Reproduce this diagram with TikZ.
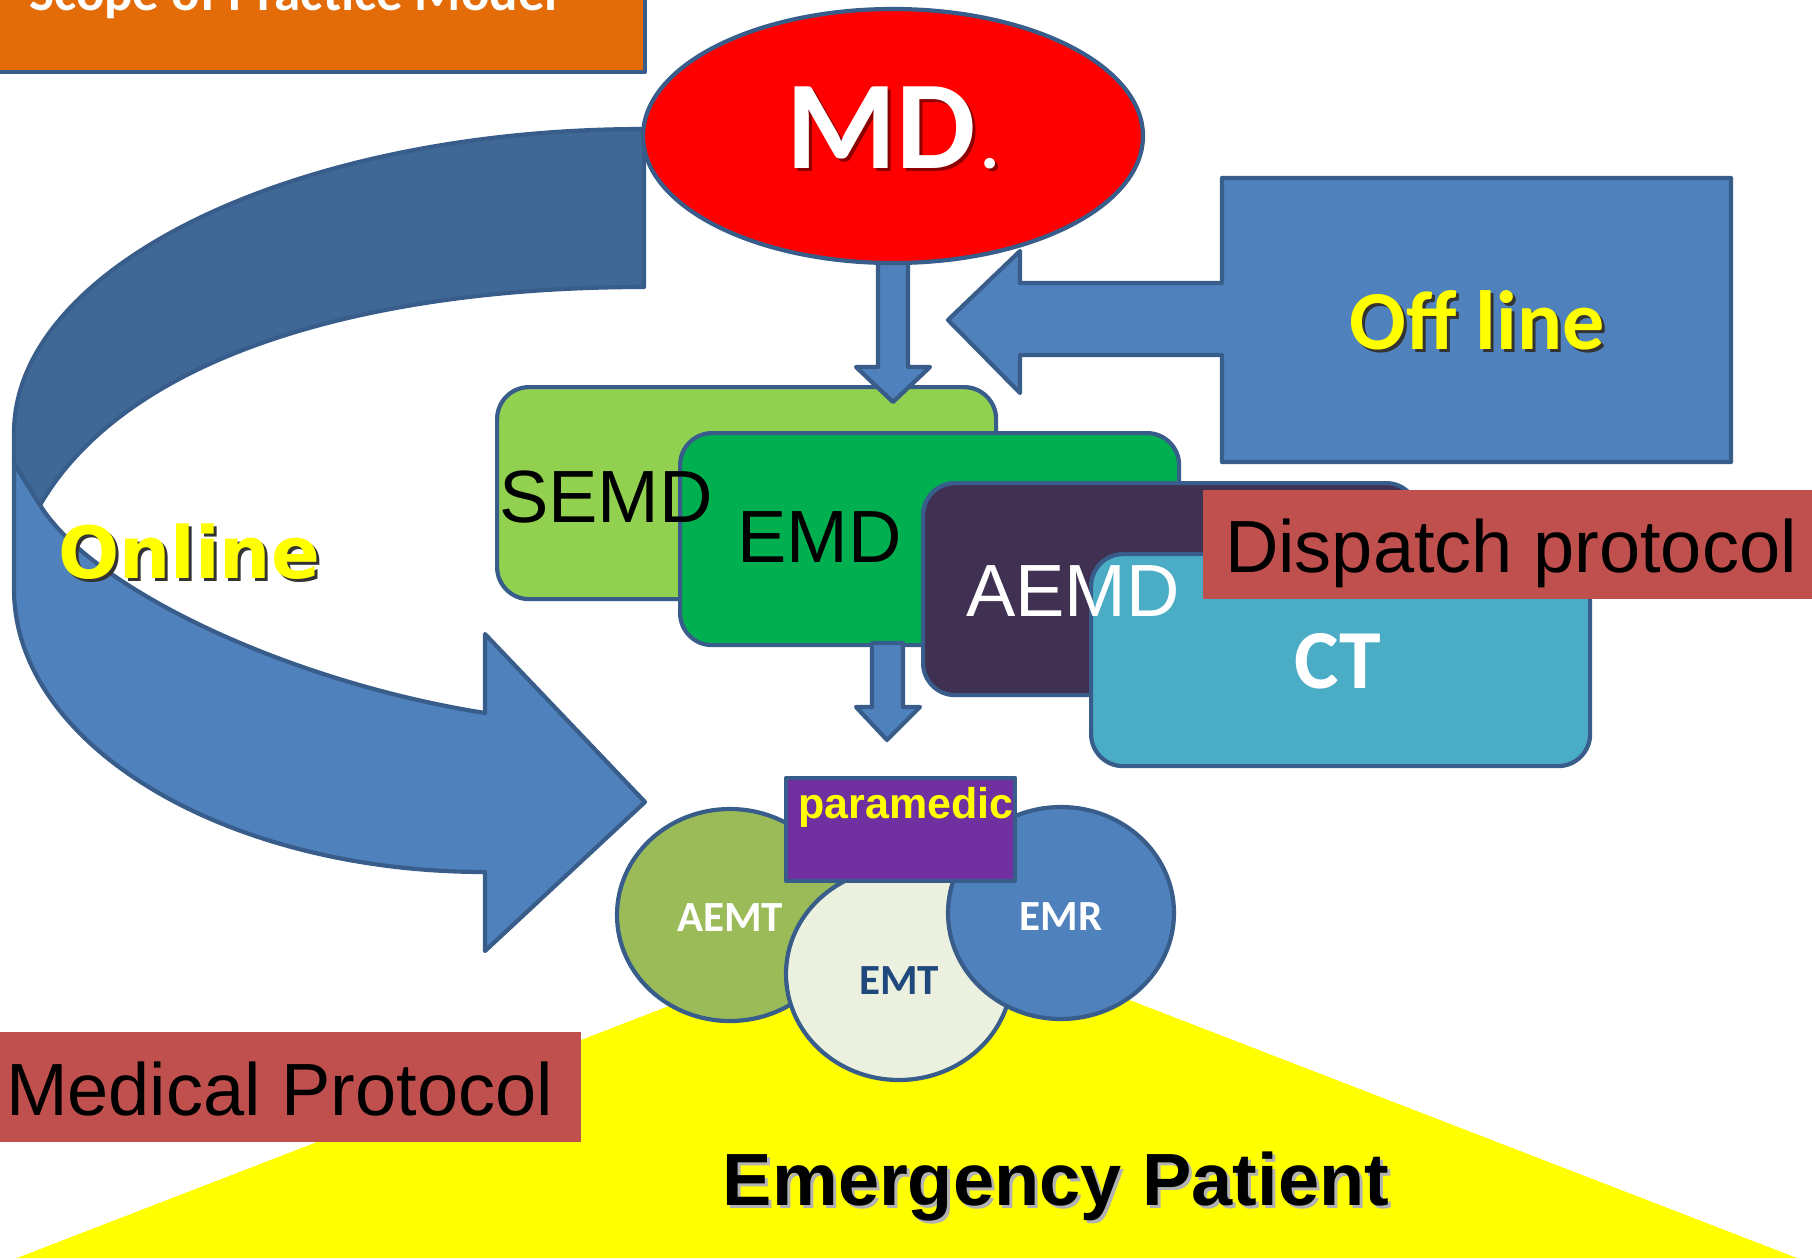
\documentclass[tikz,border=0pt]{standalone}
\usepackage{fontspec}
\setmainfont{Liberation Sans}
\newfontfamily\carlito{Carlito}
\newfontfamily\dvs{DejaVu Sans}
\usetikzlibrary{shapes.geometric}
\definecolor{bordc}{HTML}{385D8A}
\definecolor{orangeF}{HTML}{E36C09}
\definecolor{blueF}{HTML}{4F81BD}
\definecolor{blueD}{HTML}{406897}
\definecolor{semdF}{HTML}{92D050}
\definecolor{emdF}{HTML}{00B050}
\definecolor{aemdF}{HTML}{403152}
\definecolor{ctF}{HTML}{4BACC6}
\definecolor{protF}{HTML}{C0504D}
\definecolor{aemtF}{HTML}{9BBB59}
\definecolor{emtF}{HTML}{EBF1DE}
\definecolor{emtT}{HTML}{1F497D}
\definecolor{paraF}{HTML}{7030A0}
\definecolor{yel}{HTML}{FFFF00}
\definecolor{mdshadow}{HTML}{8B0000}
\begin{document}
\begin{tikzpicture}[x=1pt,y=-1pt,
  outl/.style={draw=bordc, line width=4.2pt, line join=round},
  rbox/.style={outl, rounded corners=32pt, minimum width=499pt, minimum height=212pt, anchor=north west, inner sep=0pt},
  circ/.style={outl, ellipse, minimum width=226pt, minimum height=212pt, inner sep=0pt},
  txt/.style={inner sep=0pt, outer sep=0pt},
  arialbig/.style={txt, font=\fontsize{74}{80}\selectfont},
  calb/.style={txt, font=\carlito\bfseries\fontsize{43}{50}\selectfont},
  mdfont/.style={txt, anchor=base west, font=\carlito\bfseries\fontsize{126}{130}\selectfont},
]
\useasboundingbox (0,0) rectangle (1812,1259);
% patient triangle
\fill[yel] (17,1258) -- (907,914) -- (1797,1258) -- cycle;
% online curved arrow
\draw[outl, fill=blueF] (14,463) -- (14,589) .. controls (14,745) and (225,872) .. (485,872) -- (485,951) -- (645,802) -- (485,634) -- (485,713) .. controls (289,682) and (92,589) .. (40,505) -- (14,463) -- cycle;
\draw[outl, fill=blueD] (644,129) .. controls (296,129) and (14,266) .. (14,433) -- (14,463) -- (40,505) .. controls (130,350) and (380,287) .. (644,287) -- cycle;
\node[txt, anchor=base west, text=black!80, font=\dvs\bfseries\fontsize{72}{80}\selectfont] (onlinesh) at (61,581) {Online};
\node[txt, anchor=base west, text=yel, font=\dvs\bfseries\fontsize{72}{80}\selectfont] (online) at (58,578) {Online};
% title box
\draw[outl, fill=orangeF] (-10,-10) rectangle (645,72);
\node[txt, anchor=base west, text=white, font=\carlito\bfseries\fontsize{53}{60}\selectfont] (scope) at (29,10) {Scope of Practice Model};
% offline callout
\draw[outl, fill=blueF] (1222,178) -- (1731,178) -- (1731,462) -- (1222,462) -- (1222,355) -- (1020,355) -- (1020,393) -- (948,320) -- (1020,251) -- (1020,283) -- (1222,283) -- cycle;
\node[txt, anchor=base, text=black!80, font=\carlito\bfseries\fontsize{84}{90}\selectfont] (offsh) at (1480,352) {Off line};
\node[txt, anchor=base, text=yel, font=\carlito\bfseries\fontsize{84}{90}\selectfont] (off) at (1477,349) {Off line};
% dispatcher boxes
\node[rbox, fill=semdF] (semd) at (495,385) {};
\node[rbox, fill=emdF] (emd) at (678,431) {};
\node[rbox, fill=aemdF, minimum width=495pt] (aemd) at (921,481) {};
\node[rbox, fill=ctF] (ct) at (1089,552) {};
\node[arialbig, anchor=base west] (semdt) at (499,522) {SEMD};
\node[arialbig, anchor=base west] (emdt) at (737,562) {EMD};
\node[arialbig, anchor=base west, text=white] (aemdt) at (966,616) {AEMD};
\node[txt, anchor=base, text=white, font=\carlito\bfseries\fontsize{84}{90}\selectfont] (ctt) at (1338,688) {CT};
\fill[protF] (1203,490) rectangle (1830,599);
\node[arialbig, anchor=base west] (disp) at (1225,572) {Dispatch protocol};
% down arrows
\draw[outl, fill=blueF] (878,250) -- (878,367) -- (856,367) -- (893,402) -- (930,367) -- (908,367) -- (908,250) -- cycle;
\draw[outl, fill=blueF] (872,643) -- (872,707) -- (856,707) -- (887,740) -- (920,707) -- (903,707) -- (903,643) -- cycle;
% MD
\node[outl, ellipse, fill=red, minimum width=500pt, minimum height=254pt, inner sep=0pt] (md) at (893,136) {};
\node[mdfont, text=mdshadow] (mdsh) at (789,171) {MD\hspace{5pt}{\fontsize{72}{72}\selectfont.}};
\node[mdfont, text=white] (mdt) at (786,168) {MD\hspace{5pt}{\fontsize{72}{72}\selectfont.}};
% provider circles
\node[circ, fill=aemtF] (aemt) at (730,915) {};
\node[circ, fill=emtF] (emt) at (899,974) {};
\node[circ, fill=blueF] (emr) at (1061,913) {};
\node[calb, anchor=base, text=white] (aemtt) at (730,931) {AEMT};
\node[calb, anchor=base, text=emtT] (emtt) at (899,994) {EMT};
\node[calb, anchor=base, text=white] (emrt) at (1061,930) {EMR};
\draw[outl, fill=paraF] (786,778) rectangle (1015,881);
\node[txt, anchor=base, text=yel, font=\bfseries\fontsize{43}{50}\selectfont] (para) at (906,818) {paramedic};
% medical protocol
\fill[protF] (-10,1032) rectangle (581,1142);
\node[arialbig, anchor=base west] (medp) at (6,1115) {Medical Protocol};
% patient
\node[txt, anchor=base, text=black!30, font=\bfseries\fontsize{74}{80}\selectfont] (patsh) at (1059,1208) {Emergency Patient};
\node[txt, anchor=base, text=black, font=\bfseries\fontsize{74}{80}\selectfont] (pat) at (1056,1205) {Emergency Patient};
\end{tikzpicture}
\end{document}
